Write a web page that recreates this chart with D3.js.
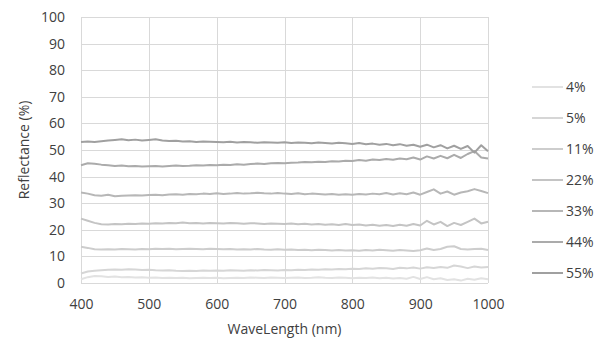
<!DOCTYPE html>
<html>
<head>
<meta charset="utf-8">
<script src="https://cdn.jsdelivr.net/npm/d3@7"></script>
<style>
  body { margin: 0; background: #fff; }
  .tick text { font-family: "Open Sans", sans-serif; font-size: 14px; fill: #404040; }
  .axis-title { font-family: "Open Sans", sans-serif; font-size: 14px; fill: #404040; }
  .legend text { font-family: "Open Sans", sans-serif; font-size: 14px; fill: #404040; }
</style>
</head>
<body>
<div id="chart"></div>
<script>
// wavelength samples (nm)
const wavelengths = d3.range(400, 1001, 10);

const seriesNames = ['4%', '5%', '11%', '22%', '33%', '44%', '55%'];
const seriesColors = ['#e2e2e2', '#d6d6d6', '#cdcdcd', '#c4c4c4', '#b7b7b7', '#ababab', '#a0a0a0'];

const r4 = [1.4, 2.2, 2.6, 2.5, 2.3, 2.4, 2.2, 2.3, 2.1, 2.2, 2.0, 2.1, 1.9, 2.0, 1.9, 2.0, 1.8, 1.9, 2.0, 1.9, 2.0,
  1.8, 1.9, 2.0, 1.9, 2.1, 2.0, 1.9, 2.1, 2.0, 1.9, 2.0, 2.1, 1.9, 2.0, 2.2, 2.0, 1.9, 2.1, 2.0, 1.8,
  2.0, 1.9, 2.1, 1.8, 2.0, 1.7, 1.9, 1.6, 2.3, 1.5, 2.2, 1.4, 1.8, 1.1, 1.4, 0.9, 1.6, 1.2, 1.8, 1.4];
const r5 = [3.6, 4.3, 4.6, 4.8, 5.0, 5.1, 5.0, 5.2, 5.1, 4.9, 5.0, 4.8, 4.7, 4.8, 4.6, 4.5, 4.6, 4.5, 4.7, 4.6, 4.7,
  4.6, 4.8, 4.7, 4.6, 4.8, 4.7, 4.9, 4.8, 4.7, 4.9, 4.8, 5.0, 4.9, 5.1, 5.0, 5.2, 5.1, 5.3, 5.2, 5.4,
  5.3, 5.5, 5.4, 5.6, 5.5, 5.3, 5.7, 5.5, 5.8, 5.4, 5.9, 5.6, 6.0, 5.7, 6.6, 6.2, 5.6, 6.2, 5.8, 6.0];
const r11 = [13.6, 13.2, 12.7, 12.6, 12.7, 12.6, 12.8, 12.7, 12.6, 12.8, 12.7, 12.9, 12.8, 12.9, 12.7, 12.8, 12.9, 12.8, 12.7, 12.9, 12.8,
  12.7, 12.8, 12.6, 12.7, 12.6, 12.8, 12.6, 12.5, 12.7, 12.5, 12.6, 12.4, 12.5, 12.3, 12.5, 12.4, 12.2, 12.4, 12.2, 12.3,
  12.1, 12.4, 12.2, 12.5, 12.3, 12.1, 12.4, 12.2, 12.0, 12.3, 13.0, 12.4, 12.8, 13.6, 13.8, 12.8, 12.6, 12.8, 12.9, 12.4];
const r22 = [24.2, 23.4, 22.6, 22.1, 22.0, 22.2, 22.1, 22.3, 22.2, 22.4, 22.3, 22.5, 22.4, 22.6, 22.5, 22.7, 22.5, 22.6, 22.4, 22.6, 22.5,
  22.4, 22.6, 22.5, 22.3, 22.5, 22.4, 22.2, 22.4, 22.3, 22.2, 22.4, 22.1, 22.3, 22.0, 22.2, 21.9, 22.1, 21.8, 22.2, 21.8,
  22.0, 21.6, 21.9, 21.5, 21.8, 21.4, 21.9, 21.5, 22.2, 21.6, 23.4, 22.0, 23.0, 21.4, 22.6, 21.8, 23.0, 24.2, 22.4, 23.0];
const r33 = [34.0, 33.6, 33.0, 32.8, 33.2, 32.6, 32.8, 32.9, 33.0, 32.9, 33.1, 33.2, 33.0, 33.3, 33.4, 33.2, 33.5, 33.4, 33.6, 33.5, 33.7,
  33.5, 33.6, 33.8, 33.6, 33.7, 33.9, 33.7, 33.6, 33.8, 33.6, 33.5, 33.7, 33.4, 33.6, 33.5, 33.3, 33.5, 33.2, 33.4, 33.2,
  33.5, 33.3, 33.6, 33.4, 33.8, 33.3, 33.7, 33.4, 34.0, 33.2, 34.2, 35.2, 33.6, 34.4, 33.2, 34.0, 34.5, 35.3, 34.6, 33.8];
const r44 = [44.3, 45.0, 44.8, 44.5, 44.3, 44.0, 44.2, 43.9, 44.0, 43.8, 43.9, 44.0, 43.8, 44.0, 44.2, 44.0, 44.1, 44.3, 44.2, 44.4, 44.3,
  44.5, 44.4, 44.6, 44.5, 44.7, 44.9, 44.7, 45.0, 45.1, 45.0, 45.2, 45.3, 45.5, 45.4, 45.6, 45.5, 45.8, 45.7, 46.0, 45.9,
  46.2, 46.0, 46.4, 46.2, 46.6, 46.3, 46.8, 46.5, 47.2, 46.4, 47.6, 46.8, 47.8, 46.9, 48.2, 47.0, 48.5, 49.6, 47.2, 46.8];
const r55 = [53.0, 53.2, 53.0, 53.3, 53.6, 53.8, 54.0, 53.7, 53.9, 53.6, 53.8, 54.0, 53.6, 53.4, 53.5, 53.2, 53.3, 53.0, 53.2, 53.1, 53.0,
  52.9, 53.1, 52.8, 53.0, 52.9, 52.7, 52.9, 52.8, 52.7, 52.9, 52.6, 52.8, 52.7, 52.5, 52.8, 52.6, 52.4, 52.7, 52.5, 52.3,
  52.6, 52.2, 52.4, 52.0, 52.3, 51.8, 52.2, 51.6, 52.0, 51.2, 52.0, 51.0, 51.8, 50.6, 51.6, 50.4, 51.5, 49.0, 51.8, 49.5];

const seriesValues = [r4, r5, r11, r22, r33, r44, r55];

const xTicks = [400, 500, 600, 700, 800, 900, 1000];
const yTicks = d3.range(0, 101, 10);

const width = 610, height = 342;
const margin = { top: 17, right: 122, bottom: 59, left: 81 };

const svg = d3.select('#chart')
  .append('svg')
  .attr('width', width)
  .attr('height', height);

const x = d3.scaleLinear().domain([400, 1000]).range([margin.left, width - margin.right]);
const y = d3.scaleLinear().domain([0, 100]).range([height - margin.bottom, margin.top]);

// gridlines
svg.append('g')
  .selectAll('line.h')
  .data(yTicks)
  .enter().append('line')
  .attr('x1', x(400)).attr('x2', x(1000))
  .attr('y1', d => Math.round(y(d)) + 0.5).attr('y2', d => Math.round(y(d)) + 0.5)
  .attr('stroke', '#d9d9d9');

svg.append('g')
  .selectAll('line.v')
  .data(xTicks)
  .enter().append('line')
  .attr('x1', d => Math.round(x(d)) + 0.5).attr('x2', d => Math.round(x(d)) + 0.5)
  .attr('y1', y(0)).attr('y2', y(100))
  .attr('stroke', '#d9d9d9');

// axes (labels only)
const xAxis = svg.append('g')
  .attr('transform', `translate(0,${y(0)})`)
  .call(d3.axisBottom(x).tickValues(xTicks).tickFormat(d3.format('d')).tickSize(0).tickPadding(16));
xAxis.select('.domain').remove();

const yAxis = svg.append('g')
  .attr('transform', `translate(${margin.left},0)`)
  .call(d3.axisLeft(y).tickValues(yTicks).tickSize(0).tickPadding(16));
yAxis.select('.domain').remove();

svg.append('text')
  .attr('class', 'axis-title')
  .attr('x', x(700))
  .attr('y', 334)
  .attr('text-anchor', 'middle')
  .text('WaveLength (nm)');

svg.append('text')
  .attr('class', 'axis-title')
  .attr('transform', `translate(29,${y(50)}) rotate(-90)`)
  .attr('text-anchor', 'middle')
  .text('Reflectance (%)');

// lines
const line = d3.line()
  .x((d, i) => x(wavelengths[i]))
  .y(d => y(d));

svg.append('g')
  .selectAll('path')
  .data(seriesValues)
  .enter().append('path')
  .attr('fill', 'none')
  .attr('stroke', (d, i) => seriesColors[i])
  .attr('stroke-width', 2)
  .attr('stroke-linejoin', 'round')
  .attr('d', line);

// legend
const legend = svg.append('g')
  .attr('class', 'legend')
  .selectAll('g')
  .data(seriesNames)
  .enter().append('g')
  .attr('transform', (d, i) => `translate(532,${87 + i * 31})`);

legend.append('line')
  .attr('x1', 0).attr('x2', 31)
  .attr('stroke', (d, i) => seriesColors[i])
  .attr('stroke-width', 2);

legend.append('text')
  .attr('x', 34)
  .attr('dy', '0.35em')
  .text(d => d);
</script>
</body>
</html>
